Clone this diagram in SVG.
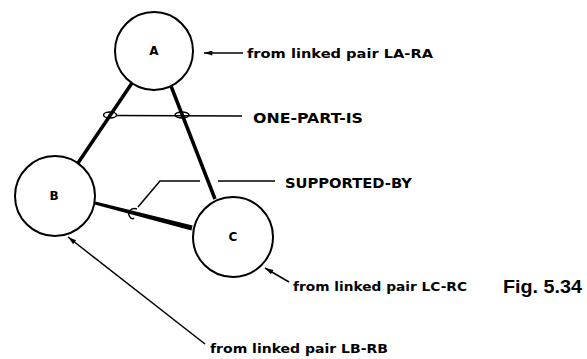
<svg xmlns="http://www.w3.org/2000/svg" width="587" height="359" viewBox="0 0 587 359">
<style>
.node{fill:#fff;stroke:#000;stroke-width:2}
.nl{font-family:"DejaVu Sans",sans-serif;font-weight:bold;font-size:12px;text-anchor:middle;fill:#000}
.lbl{font-family:"DejaVu Sans",sans-serif;font-weight:bold;font-size:13px;fill:#000}
.cap{font-family:"DejaVu Sans",sans-serif;font-weight:bold;font-size:14px;fill:#000}
.fig{font-family:"Liberation Sans",Arial,sans-serif;font-weight:bold;font-size:19px;fill:#000}
.thick{stroke:#000;stroke-width:3.5;fill:none}
.thin{stroke:#000;stroke-width:1.5;fill:none}
</style>
<defs>
<marker id="ah" viewBox="0 0 10 6" refX="10" refY="3" markerWidth="10" markerHeight="5" markerUnits="userSpaceOnUse" orient="auto">
<path d="M0,0 L10,3 L0,6 Z" fill="#000"/>
</marker>
</defs>
<g id="connectors">
<line class="thick" x1="132" y1="83" x2="78" y2="163"/>
<line class="thick" x1="171" y1="86" x2="215" y2="199"/>
<polygon points="95.4,201.6 192.6,225.6 191.4,230.4 94.6,204.4" fill="#000"/>
<ellipse cx="110" cy="115" rx="6.5" ry="3" class="thin"/>
<ellipse cx="182" cy="115" rx="7" ry="3" class="thin"/>
<line class="thin" x1="116" y1="115.5" x2="242" y2="116"/>
<path class="thin" d="M138,207 L160,181 L200,181 M218,181 L275,181"/>
<path class="thin" d="M137,209 C130,207 127,213 130,217 C131,219 133,219 134,218"/>
<line class="thin" x1="243" y1="53" x2="204" y2="53" marker-end="url(#ah)"/>
<line class="thin" x1="289" y1="282" x2="265" y2="268" marker-end="url(#ah)"/>
<line class="thin" x1="205" y1="344" x2="68" y2="237" marker-end="url(#ah)"/>
</g>
<g id="A">
<circle class="node" cx="154" cy="51" r="39"/>
<text class="nl" x="154" y="55">A</text>
</g>
<g id="B">
<circle class="node" cx="55" cy="196" r="40"/>
<text class="nl" x="54" y="200">B</text>
</g>
<g id="C">
<circle class="node" cx="233" cy="237" r="40"/>
<text class="nl" x="233" y="241">C</text>
</g>
<g id="labels">
<text class="lbl" x="247" y="58" textLength="186" lengthAdjust="spacingAndGlyphs">from linked pair LA-RA</text>
<text class="cap" x="253" y="123" textLength="110" lengthAdjust="spacingAndGlyphs">ONE-PART-IS</text>
<text class="cap" x="285" y="188" textLength="127" lengthAdjust="spacingAndGlyphs">SUPPORTED-BY</text>
<text class="lbl" x="293" y="291" textLength="174" lengthAdjust="spacingAndGlyphs">from linked pair LC-RC</text>
<text class="lbl" x="210" y="353" textLength="178" lengthAdjust="spacingAndGlyphs">from linked pair LB-RB</text>
<text class="fig" x="503" y="293" textLength="79" lengthAdjust="spacingAndGlyphs">Fig. 5.34</text>
</g>
</svg>
